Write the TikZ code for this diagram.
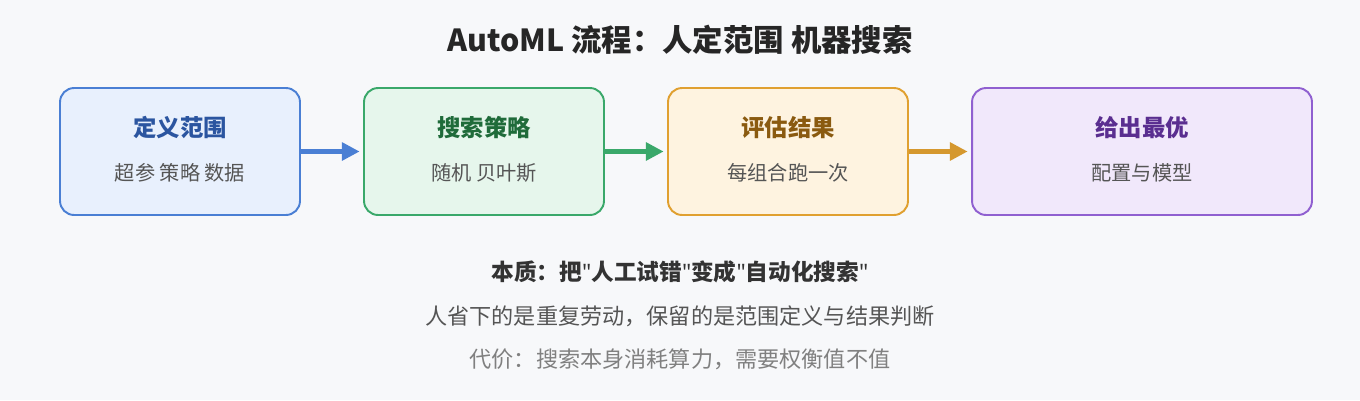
\documentclass[tikz,border=0pt]{standalone}
\usepackage{fontspec}
\setmainfont{Noto Sans CJK SC}
\newfontfamily\latinfont{Noto Sans}
\usetikzlibrary{arrows.meta,positioning}
\definecolor{bgc}{HTML}{F7F8FA}
\definecolor{blueb}{HTML}{4A7FD4}\definecolor{bluef}{HTML}{E8F0FD}\definecolor{bluet}{HTML}{2B55A0}
\definecolor{greenb}{HTML}{3AA86A}\definecolor{greenf}{HTML}{E6F6EC}\definecolor{greent}{HTML}{1F6B3A}
\definecolor{orangeb}{HTML}{E0A030}\definecolor{orangef}{HTML}{FEF3E0}\definecolor{oranget}{HTML}{8A5A10}
\definecolor{purpleb}{HTML}{9060D0}\definecolor{purplef}{HTML}{F1E8FB}\definecolor{purplet}{HTML}{5A2E90}
\definecolor{txt}{HTML}{555555}
\newcommand{\qt}{{\latinfont"}}
\tikzset{
  stage/.style={draw=#1b, fill=#1f, line width=1.1pt, rounded corners=8pt, minimum height=2.54cm},
  flow/.style={line width=2.3pt, draw=#1, -{Triangle[length=10pt,width=10pt]}, shorten >=2pt},
  head/.style={font=\bfseries\fontsize{13.3}{15}\selectfont, text=#1},
  sub/.style={font=\fontsize{11.5}{13}\selectfont, text=txt},
}
\begin{document}
\begin{tikzpicture}[x=0.02cm,y=-0.02cm]
  \fill[bgc] (0,0) rectangle (1360,400);
  \node[font=\bfseries\fontsize{17.3}{20}\selectfont, text=black!85] (title) at (680,40) {AutoML 流程：人定范围 机器搜索};
  % stages
  \node[stage=blue, minimum width=4.8cm] (define) at (180,151.5) {};
  \node[stage=green, minimum width=4.8cm] (search) at (484,151.5) {};
  \node[stage=orange, minimum width=4.8cm] (eval) at (788,151.5) {};
  \node[stage=purple, minimum width=6.8cm] (best) at (1142,151.5) {};
  \node[head=bluet] at (180,128) {定义范围};
  \node[sub] at (180,173) {超参 策略 数据};
  \node[head=greent] at (484,128) {搜索策略};
  \node[sub] at (484,173) {随机 贝叶斯};
  \node[head=oranget] at (788,128) {评估结果};
  \node[sub] at (788,173) {每组合跑一次};
  \node[head=purplet] at (1142,128) {给出最优};
  \node[sub] at (1142,173) {配置与模型};
  % arrows
  \draw[flow=blueb] (define) -- (search);
  \draw[flow=greenb] (search) -- (eval);
  \draw[flow=orangeb!95!black] (eval) -- (best);
  % notes
  \node[font=\bfseries\fontsize{12.9}{15}\selectfont, text=black!80] (essence) at (680,272) {本质：把\qt 人工试错\qt 变成\qt 自动化搜索\qt};
  \node[font=\fontsize{12.6}{15}\selectfont, text=txt] (keep) at (680,316) {人省下的是重复劳动，保留的是范围定义与结果判断};
  \node[font=\fontsize{12.6}{15}\selectfont, text=black!50] (cost) at (680,359) {代价：搜索本身消耗算力，需要权衡值不值};
\end{tikzpicture}
\end{document}
